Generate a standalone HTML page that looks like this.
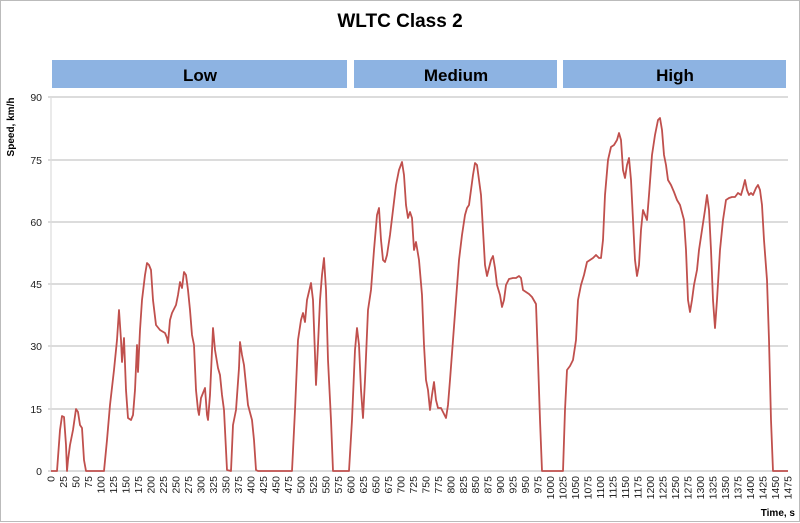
<!DOCTYPE html>
<html><head><meta charset="utf-8"><style>body{margin:0;background:#fff}svg{display:block;font-family:"Liberation Sans",sans-serif}</style></head><body>
<svg width="800" height="523" viewBox="0 0 800 523" xmlns="http://www.w3.org/2000/svg">
<rect x="0.5" y="0.5" width="799" height="521" fill="#fff" stroke="#bbb"/>
<text x="400" y="27" text-anchor="middle" font-size="19" font-weight="bold">WLTC Class 2</text>
<rect x="52" y="60" width="295" height="28" fill="#8db3e2"/>
<rect x="354" y="60" width="203" height="28" fill="#8db3e2"/>
<rect x="563" y="60" width="223" height="28" fill="#8db3e2"/>
<g font-size="17" font-weight="bold" text-anchor="middle"><text x="200" y="81">Low</text><text x="456" y="81">Medium</text><text x="675" y="81">High</text></g>
<g stroke="#c8c8c8" stroke-width="1.2">
<line x1="48" x2="788" y1="97" y2="97"/><line x1="48" x2="788" y1="160" y2="160"/><line x1="48" x2="788" y1="222" y2="222"/><line x1="48" x2="788" y1="284" y2="284"/><line x1="48" x2="788" y1="346" y2="346"/><line x1="48" x2="788" y1="409" y2="409"/><line x1="48" x2="788" y1="471" y2="471"/>
<line x1="51" x2="51" y1="97" y2="471" stroke="#ddd"/>
</g>
<g font-size="10.5" text-anchor="end" fill="#222">
<text x="42" y="101">90</text><text x="42" y="164">75</text><text x="42" y="226">60</text><text x="42" y="288">45</text><text x="42" y="350">30</text><text x="42" y="413">15</text><text x="42" y="475">0</text>
</g>
<text transform="translate(14,127) rotate(-90)" text-anchor="middle" font-size="10" font-weight="bold">Speed, km/h</text>
<text x="795" y="516" text-anchor="end" font-size="10" font-weight="bold">Time, s</text>
<g font-size="10.5" text-anchor="end" fill="#222">
<text transform="translate(54.5,476) rotate(-90)">0</text>
<text transform="translate(67.0,476) rotate(-90)">25</text>
<text transform="translate(79.5,476) rotate(-90)">50</text>
<text transform="translate(92.0,476) rotate(-90)">75</text>
<text transform="translate(104.5,476) rotate(-90)">100</text>
<text transform="translate(117.0,476) rotate(-90)">125</text>
<text transform="translate(129.5,476) rotate(-90)">150</text>
<text transform="translate(141.9,476) rotate(-90)">175</text>
<text transform="translate(154.4,476) rotate(-90)">200</text>
<text transform="translate(166.9,476) rotate(-90)">225</text>
<text transform="translate(179.4,476) rotate(-90)">250</text>
<text transform="translate(191.9,476) rotate(-90)">275</text>
<text transform="translate(204.4,476) rotate(-90)">300</text>
<text transform="translate(216.9,476) rotate(-90)">325</text>
<text transform="translate(229.4,476) rotate(-90)">350</text>
<text transform="translate(241.9,476) rotate(-90)">375</text>
<text transform="translate(254.4,476) rotate(-90)">400</text>
<text transform="translate(266.9,476) rotate(-90)">425</text>
<text transform="translate(279.4,476) rotate(-90)">450</text>
<text transform="translate(291.9,476) rotate(-90)">475</text>
<text transform="translate(304.4,476) rotate(-90)">500</text>
<text transform="translate(316.8,476) rotate(-90)">525</text>
<text transform="translate(329.3,476) rotate(-90)">550</text>
<text transform="translate(341.8,476) rotate(-90)">575</text>
<text transform="translate(354.3,476) rotate(-90)">600</text>
<text transform="translate(366.8,476) rotate(-90)">625</text>
<text transform="translate(379.3,476) rotate(-90)">650</text>
<text transform="translate(391.8,476) rotate(-90)">675</text>
<text transform="translate(404.3,476) rotate(-90)">700</text>
<text transform="translate(416.8,476) rotate(-90)">725</text>
<text transform="translate(429.3,476) rotate(-90)">750</text>
<text transform="translate(441.8,476) rotate(-90)">775</text>
<text transform="translate(454.3,476) rotate(-90)">800</text>
<text transform="translate(466.8,476) rotate(-90)">825</text>
<text transform="translate(479.2,476) rotate(-90)">850</text>
<text transform="translate(491.7,476) rotate(-90)">875</text>
<text transform="translate(504.2,476) rotate(-90)">900</text>
<text transform="translate(516.7,476) rotate(-90)">925</text>
<text transform="translate(529.2,476) rotate(-90)">950</text>
<text transform="translate(541.7,476) rotate(-90)">975</text>
<text transform="translate(554.2,476) rotate(-90)">1000</text>
<text transform="translate(566.7,476) rotate(-90)">1025</text>
<text transform="translate(579.2,476) rotate(-90)">1050</text>
<text transform="translate(591.7,476) rotate(-90)">1075</text>
<text transform="translate(604.2,476) rotate(-90)">1100</text>
<text transform="translate(616.7,476) rotate(-90)">1125</text>
<text transform="translate(629.2,476) rotate(-90)">1150</text>
<text transform="translate(641.7,476) rotate(-90)">1175</text>
<text transform="translate(654.1,476) rotate(-90)">1200</text>
<text transform="translate(666.6,476) rotate(-90)">1225</text>
<text transform="translate(679.1,476) rotate(-90)">1250</text>
<text transform="translate(691.6,476) rotate(-90)">1275</text>
<text transform="translate(704.1,476) rotate(-90)">1300</text>
<text transform="translate(716.6,476) rotate(-90)">1325</text>
<text transform="translate(729.1,476) rotate(-90)">1350</text>
<text transform="translate(741.6,476) rotate(-90)">1375</text>
<text transform="translate(754.1,476) rotate(-90)">1400</text>
<text transform="translate(766.6,476) rotate(-90)">1425</text>
<text transform="translate(779.1,476) rotate(-90)">1450</text>
<text transform="translate(791.6,476) rotate(-90)">1475</text>
</g>
<polyline fill="none" stroke="#c0504d" stroke-width="1.8" stroke-linejoin="round" points="51,471 57,471 60,430 62,416 64,417 66,445 67,471 68,460 70,445 73,430 76,409 78,412 80,425 82,428 84,460 86,471 104,471 107,440 110,405 114,370 117,340 119,310 121,340 122,362 124,338 126,390 128,418 131,420 133,415 135,390 137,345 138,372 140,330 142,300 145,275 147,263 149,265 151,270 153,300 156,325 160,330 165,333 167,338 168,343 170,320 172,313 176,305 178,295 180,282 182,288 184,272 186,275 188,290 190,310 192,335 194,345 196,390 198,410 199,415 201,398 205,388 207,415 208,420 210,395 213,328 215,350 218,368 220,375 222,395 224,410 227,470 231,471 233,425 236,410 239,368 240,342 242,355 244,365 246,385 248,405 252,420 254,440 256,470 258,471 292,471 295,410 298,340 301,320 303,313 305,322 307,300 311,283 313,300 315,355 316,385 318,345 320,300 322,275 324,258 326,290 328,360 331,420 333,471 349,471 352,420 355,350 357,328 359,345 361,390 363,418 365,380 368,310 371,290 374,250 377,215 379,208 381,240 383,260 385,262 387,255 390,235 393,210 396,185 399,170 402,162 404,175 406,205 408,218 410,212 412,218 414,250 416,242 419,260 422,295 424,345 426,380 428,390 430,410 432,395 434,382 436,400 438,408 441,408 443,412 446,418 448,405 450,380 453,340 456,300 459,260 462,235 465,215 467,208 469,205 471,190 473,175 475,163 477,165 479,180 481,195 483,230 485,265 487,276 489,268 491,260 493,256 495,268 497,285 500,295 502,307 504,300 506,285 509,279 513,278 516,278 519,276 521,278 523,290 526,292 529,294 532,297 536,304 538,360 540,420 542,471 563,471 565,410 567,370 570,366 573,360 576,340 578,300 581,285 584,275 587,262 590,260 593,258 596,255 599,258 601,258 603,240 605,195 608,160 611,147 614,145 617,140 619,133 621,140 623,170 625,178 627,165 629,158 631,180 633,220 635,260 637,276 639,265 641,230 643,210 645,215 647,220 649,195 652,155 655,135 658,120 660,118 662,130 664,155 666,165 668,180 671,185 674,192 677,200 680,205 684,220 686,250 688,300 690,312 692,300 694,285 697,270 699,250 702,230 705,210 707,195 709,210 711,250 713,300 715,328 717,300 720,250 723,220 726,200 729,198 732,197 735,197 738,193 741,195 743,188 745,180 747,190 749,195 751,193 753,195 756,188 758,185 760,190 762,205 764,240 767,280 769,340 771,420 773,471 788,471"/>
</svg>
</body></html>
